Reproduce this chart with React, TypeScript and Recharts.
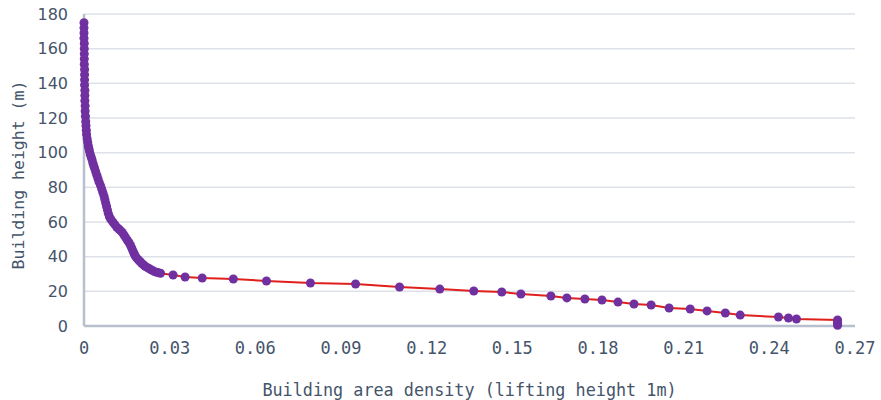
import React from 'react';
import {
  ScatterChart,
  Scatter,
  XAxis,
  YAxis,
  ZAxis,
  CartesianGrid,
} from 'recharts';

// building area density (x) vs building height (y)
const densities = [
  0.0, 0.0, 0.0, 0.0, 0.0001, 0.0001, 0.0001, 0.0001, 0.0001, 0.0002,
  0.0002, 0.0002, 0.0002, 0.0003, 0.0003, 0.0003, 0.0004, 0.0004, 0.0005, 0.0006,
  0.0007, 0.0008, 0.0009, 0.0011, 0.0013, 0.0015, 0.0017, 0.0019, 0.0022, 0.0025,
  0.0028, 0.0031, 0.0034, 0.0037, 0.0041, 0.0045, 0.0049, 0.0053, 0.0058, 0.0062,
  0.0066, 0.007, 0.0073, 0.0076, 0.0079, 0.0082, 0.0085, 0.0089, 0.0094, 0.0101,
  0.0108, 0.0115, 0.0122, 0.0128, 0.0134, 0.014, 0.0146, 0.0152, 0.0158, 0.0163,
  0.0167, 0.0171, 0.0175, 0.0179, 0.0184, 0.019, 0.0196, 0.0202, 0.0208, 0.0214,
  0.0221, 0.0228, 0.0235, 0.0242, 0.025, 0.0259, 0.0268,
  0.0312, 0.0354, 0.0414, 0.0523, 0.0639, 0.0793, 0.0951, 0.1105, 0.1246, 0.1365,
  0.1463, 0.153, 0.1635, 0.1691, 0.1754, 0.1814, 0.187, 0.1926, 0.1986, 0.2049,
  0.2123, 0.2182, 0.2246, 0.2298, 0.2432, 0.2467, 0.2495, 0.2639, 0.2639, 0.2639,
  0.2639,
];
const heights = [
  175, 172, 169, 166, 163, 160, 157, 154, 151, 148,
  145, 142, 139, 136, 133, 130, 127, 124, 121, 118,
  115.5, 113, 110.5, 108, 106, 104, 102.5, 101, 99, 97.5,
  96, 94, 92.5, 91, 89, 87, 85, 83, 81, 79,
  77, 75, 73, 71, 69, 67, 65, 63, 61.5, 60,
  58.5, 57, 56, 55, 54, 52.5, 51, 49.5, 48, 46.5,
  45, 43.5, 42, 40.5, 39.3, 38.2, 37.2, 36.2, 35.3, 34.5,
  33.8, 33.1, 32.4, 31.8, 31.2, 30.8, 30.4,
  29.4, 28.3, 27.7, 27.1, 26.0, 24.8, 24.2, 22.5, 21.3, 20.2,
  19.6, 18.5, 17.3, 16.2, 15.6, 15.0, 13.8, 12.7, 12.1, 10.4,
  9.8, 8.7, 7.5, 6.3, 5.2, 4.6, 4.0, 3.5, 2.5, 1.4,
  0.4,
];
const xTicks = [0, 0.03, 0.06, 0.09, 0.12, 0.15, 0.18, 0.21, 0.24, 0.27];
const yTicks = [0, 20, 40, 60, 80, 100, 120, 140, 160, 180];

const data = densities.map((d, i) => ({ x: d, y: heights[i] }));

const textColor = '#44546a';
const monoFont = '"DejaVu Sans Mono", monospace';

const YTitle = (props: any) => {
  const vb = props.viewBox || {};
  const cy = vb.y + vb.height / 2 + 5;
  return (
    <text
      x={18}
      y={cy}
      transform={`rotate(-90, 18, ${cy})`}
      textAnchor="middle"
      dominantBaseline="central"
      fill={textColor}
      fontFamily={monoFont}
      fontSize={16.5}
    >
      Building height (m)
    </text>
  );
};

export default function App() {
  return (
    <div style={{ position: 'fixed', left: 0, top: 0, width: 881, height: 400, background: '#fff' }}>
      <ScatterChart width={881} height={400} margin={{ top: 14, right: 26, left: 0, bottom: 0 }}>
        <CartesianGrid vertical={false} stroke="#dde1ea" strokeWidth={1.5} />
        <XAxis
          type="number"
          dataKey="x"
          domain={[0, 0.27]}
          ticks={xTicks}
          height={74}
          tickLine={false}
          axisLine={{ stroke: '#b8c0cf', strokeWidth: 2.5 }}
          tickSize={0}
          tickMargin={16}
          tickFormatter={(v: number) => (v === 0 ? '0' : v.toFixed(2))}
          tick={{ fill: textColor, fontSize: 17, fontFamily: monoFont, fontWeight: 500 }}
          label={{
            value: 'Building area density (lifting height 1m)',
            position: 'insideBottom',
            offset: 4,
            fill: textColor,
            fontSize: 16.8,
            fontFamily: monoFont,
            fontWeight: 500,
          }}
        />
        <YAxis
          type="number"
          dataKey="y"
          domain={[0, 180]}
          ticks={yTicks}
          width={84}
          tickLine={false}
          axisLine={{ stroke: '#b8c0cf', strokeWidth: 2.5 }}
          tickSize={0}
          tickMargin={16}
          tick={{ fill: textColor, fontSize: 16, fontFamily: '"DejaVu Sans", sans-serif' }}
          label={<YTitle />}
        />
        <ZAxis range={[90, 90]} />
        <Scatter
          data={data}
          fill="#7030a0"
          line={{ stroke: '#e0201c', strokeWidth: 2 }}
          isAnimationActive={false}
        />
      </ScatterChart>
    </div>
  );
}
